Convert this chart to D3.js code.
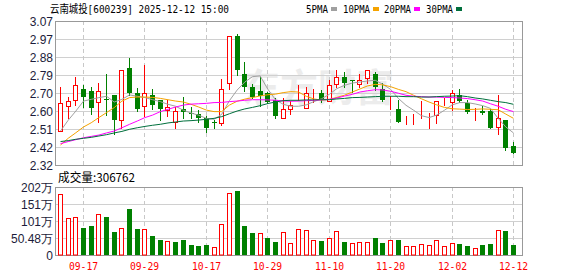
<!DOCTYPE html>
<html>
<head>
<meta charset="utf-8">
<script src="https://cdn.jsdelivr.net/npm/d3@7"></script>
<style>
  body { margin: 0; background: #fff; }
  text { font-family: "Liberation Sans", Arial, sans-serif; }
</style>
</head>
<body>
<div id="chart"></div>
<script>
// trading days shown, 09-12 .. 12-12
var dates = ["09-12","09-15","09-16","09-17","09-18","09-19","09-22","09-23","09-24","09-25",
  "09-26","09-29","09-30","10-09","10-10","10-13","10-14","10-15","10-16","10-17",
  "10-20","10-21","10-22","10-23","10-24","10-27","10-28","10-29","10-30","10-31",
  "11-03","11-04","11-05","11-06","11-07","11-10","11-11","11-12","11-13","11-14",
  "11-17","11-18","11-19","11-20","11-21","11-24","11-25","11-26","11-27","11-28",
  "12-01","12-02","12-03","12-04","12-05","12-08","12-09","12-10","12-11","12-12"];

var openP = [2.495,2.626,2.657,2.714,2.705,2.646,2.666,2.685,2.556,2.825,
  2.695,2.626,2.683,2.660,2.605,2.546,2.612,2.591,2.587,2.563,
  2.546,2.537,2.749,2.992,2.794,2.726,2.705,2.695,2.657,2.567,
  2.612,2.672,2.615,2.702,2.693,2.652,2.740,2.778,2.765,2.740,
  2.771,2.794,2.714,2.660,2.612,2.551,2.570,2.572,2.573,2.579,
  2.653,2.648,2.683,2.643,2.606,2.601,2.601,2.516,2.554,2.419];
var highP = [2.726,2.674,2.778,2.737,2.726,2.747,2.796,2.685,2.813,2.879,
  2.719,2.839,2.716,2.660,2.657,2.622,2.674,2.622,2.605,2.575,
  2.556,2.766,2.992,3.001,2.855,2.740,2.778,2.700,2.671,2.671,
  2.653,2.735,2.725,2.714,2.712,2.761,2.815,2.803,2.765,2.792,
  2.813,2.804,2.749,2.679,2.660,2.575,2.587,2.653,2.591,2.652,
  2.667,2.712,2.714,2.660,2.619,2.627,2.610,2.685,2.554,2.440];
var lowP = [2.495,2.567,2.633,2.624,2.587,2.546,2.580,2.483,2.511,2.685,
  2.601,2.575,2.612,2.556,2.575,2.514,2.567,2.567,2.546,2.492,
  2.514,2.527,2.718,2.789,2.705,2.671,2.626,2.641,2.567,2.567,
  2.587,2.657,2.615,2.648,2.648,2.652,2.725,2.725,2.700,2.725,
  2.749,2.712,2.655,2.610,2.546,2.535,2.535,2.567,2.514,2.537,
  2.634,2.605,2.650,2.589,2.556,2.587,2.514,2.483,2.400,2.381];
var closeP = [2.641,2.653,2.735,2.676,2.615,2.705,2.659,2.556,2.813,2.697,
  2.613,2.695,2.634,2.613,2.620,2.600,2.594,2.589,2.567,2.514,
  2.539,2.714,2.992,2.815,2.728,2.674,2.679,2.646,2.575,2.610,
  2.631,2.672,2.693,2.702,2.665,2.735,2.778,2.747,2.763,2.764,
  2.813,2.728,2.657,2.660,2.546,2.551,2.570,2.572,2.573,2.652,
  2.653,2.693,2.653,2.594,2.606,2.591,2.514,2.565,2.410,2.381];

// volume, in 万
var volume = [180.2,109,112,80.2,86,120.8,112.8,68.3,79.2,136.6,
  77.2,76.2,56.4,45.5,40.6,38.6,45.5,29.7,26.7,29.7,
  22.8,91,184,190,86,64.3,64.3,50.5,38.6,67.3,
  34.6,76.2,74.2,44.5,41.6,49.4,71.3,38.6,34.6,37.6,
  37.6,50.5,35.6,44.5,44.5,25.7,25.7,31.7,28.7,44.5,
  25.7,34.6,32.7,26.7,19.8,29.7,32.7,74.2,71.3,30.6762];

var ma5 = [2.497,2.553,2.601,2.653,2.662,2.671,2.678,2.648,2.662,2.685,
  2.678,2.671,2.660,2.650,2.636,2.626,2.605,2.591,2.579,2.563,
  2.558,2.584,2.655,2.710,2.752,2.780,2.784,2.715,2.660,2.636,
  2.626,2.626,2.633,2.650,2.665,2.688,2.718,2.735,2.747,2.752,
  2.758,2.761,2.740,2.714,2.667,2.631,2.605,2.577,2.567,2.580,
  2.605,2.633,2.645,2.645,2.638,2.629,2.615,2.563,2.518,2.487];
var ma10 = [2.424,2.459,2.488,2.518,2.540,2.567,2.593,2.619,2.653,2.671,
  2.674,2.674,2.672,2.667,2.660,2.653,2.648,2.636,2.622,2.606,
  2.598,2.598,2.632,2.652,2.663,2.671,2.680,2.686,2.689,2.697,
  2.702,2.700,2.678,2.664,2.658,2.662,2.672,2.684,2.700,2.716,
  2.732,2.740,2.737,2.728,2.714,2.702,2.683,2.665,2.648,2.633,
  2.620,2.613,2.611,2.609,2.610,2.612,2.610,2.608,2.585,2.563];
var ma20 = [2.431,2.442,2.452,2.462,2.469,2.476,2.487,2.497,2.514,2.532,
  2.549,2.567,2.580,2.598,2.610,2.622,2.632,2.637,2.639,2.641,
  2.645,2.646,2.650,2.653,2.657,2.660,2.660,2.659,2.657,2.654,
  2.652,2.653,2.655,2.657,2.659,2.662,2.669,2.679,2.688,2.700,
  2.707,2.712,2.711,2.704,2.694,2.683,2.678,2.676,2.674,2.674,
  2.672,2.671,2.669,2.666,2.660,2.653,2.639,2.626,2.610,2.598];
var ma30 = [2.442,2.447,2.454,2.459,2.464,2.471,2.478,2.487,2.495,2.506,
  2.514,2.521,2.527,2.532,2.539,2.544,2.549,2.551,2.554,2.558,
  2.563,2.572,2.587,2.601,2.612,2.620,2.629,2.640,2.648,2.655,
  2.657,2.657,2.659,2.659,2.660,2.660,2.664,2.667,2.671,2.672,
  2.674,2.676,2.678,2.678,2.678,2.676,2.676,2.674,2.674,2.676,
  2.678,2.679,2.681,2.676,2.669,2.664,2.657,2.650,2.645,2.636];

var priceLabels = ["2.32","2.42","2.51","2.60","2.70","2.79","2.88","2.97","3.07"];
var volLabels = ["0","50.48万","101万","151万","202万"];
var tickDates = ["09-17","09-29","10-17","10-29","11-10","11-20","12-02","12-12"];
var maNames = ["5PMA","10PMA","20PMA","30PMA"];

var RED = "#ff0000", GREEN = "#008000";
var maColors = ["#a0a0a0", "#f5a300", "#ff00ff", "#006f3c"];

var W = 578, H = 276;
var left = 55, right = 522;
var pTop = 21, pBot = 165, vTop = 187, vBot = 255;
var pMin = 2.32, pMax = 3.07, vMax = 201.92;

var svg = d3.select("#chart").append("svg")
  .attr("width", W).attr("height", H);

var n = dates.length;
var x = d3.scaleLinear().domain([0, n - 1]).range([60.5, 513.5]);
var cx = function (i) { return Math.floor(x(i)) + 0.5; };
var yP = d3.scaleLinear().domain([pMin, pMax]).range([pBot, pTop]);
var yV = d3.scaleLinear().domain([0, vMax]).range([vBot, vTop]);

// watermark
svg.append("text")
  .attr("x", 242).attr("y", 101)
  .style("font-family", "'Noto Sans CJK SC'")
  .style("font-weight", "bold")
  .style("font-size", "38px")
  .attr("fill", "#ececec")
  .text("东方财富");

// grids
var priceVals = d3.range(priceLabels.length).map(function (i) {
  return pMin + i * (pMax - pMin) / (priceLabels.length - 1);
});
var volVals = d3.range(volLabels.length).map(function (i) {
  return i * vMax / (volLabels.length - 1);
});

svg.selectAll(".pgrid").data(priceVals.slice(1, -1)).enter()
  .append("line")
  .attr("x1", left).attr("x2", right)
  .attr("y1", function (d) { return Math.round(yP(d)) + 0.5; })
  .attr("y2", function (d) { return Math.round(yP(d)) + 0.5; })
  .attr("stroke", "#d0d0d0");
svg.selectAll(".vgrid").data(volVals.slice(1, -1)).enter()
  .append("line")
  .attr("x1", left).attr("x2", right)
  .attr("y1", function (d) { return Math.round(yV(d)) + 0.5; })
  .attr("y2", function (d) { return Math.round(yV(d)) + 0.5; })
  .attr("stroke", "#d0d0d0");

var tickIdx = tickDates.map(function (d) { return dates.indexOf(d); });
[[pTop, pBot], [vTop, vBot]].forEach(function (r) {
  svg.selectAll(null).data(tickIdx).enter()
    .append("line")
    .attr("x1", function (i) { return cx(i); })
    .attr("x2", function (i) { return cx(i); })
    .attr("y1", r[0]).attr("y2", r[1])
    .attr("stroke", "#c8c8c8")
    .attr("stroke-dasharray", "4,3");
});

// panel frames
[[pTop, pBot], [vTop, vBot]].forEach(function (r) {
  svg.append("rect")
    .attr("x", left + 0.5).attr("y", r[0] + 0.5)
    .attr("width", right - left).attr("height", r[1] - r[0])
    .attr("fill", "none").attr("stroke", "#999");
});

// y labels
svg.selectAll(".plab").data(priceVals).enter()
  .append("text")
  .attr("x", 53).attr("y", function (d) { return yP(d) + 4.5; })
  .attr("text-anchor", "end")
  .style("font-size", "12px").attr("fill", "#1c1c3a")
  .text(function (d, i) { return priceLabels[i]; });
svg.selectAll(".vlab").data(volVals).enter()
  .append("text")
  .attr("x", 53).attr("y", function (d) { return yV(d) + 4.5; })
  .attr("text-anchor", "end")
  .style("font-size", "12px").attr("fill", "#1c1c3a")
  .text(function (d, i) { return volLabels[i]; });

// x labels
svg.selectAll(".xlab").data(tickIdx).enter()
  .append("text")
  .attr("x", function (i) { return cx(i); }).attr("y", 270)
  .attr("text-anchor", "middle")
  .style("font-family", "'DejaVu Sans Mono', monospace")
  .style("font-size", "9.7px").attr("fill", RED)
  .text(function (i) { return dates[i]; });

// up / down
var isUp = function (i) {
  if (closeP[i] > openP[i]) return true;
  if (closeP[i] < openP[i]) return false;
  return i === 0 || closeP[i] >= closeP[i - 1];
};
var volUp = function (i) { return i === 0 || closeP[i] >= closeP[i - 1]; };

// volume bars
var idx = d3.range(n);
svg.selectAll(".vol").data(idx).enter()
  .append("rect")
  .attr("x", function (i) { return volUp(i) ? cx(i) - 2 : cx(i) - 2.5; })
  .attr("y", function (i) { return Math.round(yV(volume[i])) + (volUp(i) ? 0.5 : 0); })
  .attr("width", function (i) { return volUp(i) ? 4 : 5; })
  .attr("height", function (i) { return vBot - Math.round(yV(volume[i])) - (volUp(i) ? 0.5 : 0); })
  .attr("fill", function (i) { return volUp(i) ? "#fff" : GREEN; })
  .attr("stroke", function (i) { return volUp(i) ? RED : "none"; });

// candles
var candle = svg.selectAll(".candle").data(idx).enter().append("g");
candle.append("line")
  .attr("x1", function (i) { return cx(i); })
  .attr("x2", function (i) { return cx(i); })
  .attr("y1", function (i) { return Math.round(yP(highP[i])); })
  .attr("y2", function (i) { return Math.round(yP(lowP[i])) + 1; })
  .attr("stroke", function (i) { return isUp(i) ? RED : GREEN; });
candle.append("rect")
  .attr("x", function (i) { return isUp(i) ? cx(i) - 2 : cx(i) - 2.5; })
  .attr("y", function (i) {
    var t = Math.round(yP(Math.max(openP[i], closeP[i])));
    return isUp(i) ? t + 0.5 : t;
  })
  .attr("width", function (i) { return isUp(i) ? 4 : 5; })
  .attr("height", function (i) {
    var t = Math.round(yP(Math.max(openP[i], closeP[i])));
    var b = Math.round(yP(Math.min(openP[i], closeP[i])));
    return isUp(i) ? Math.max(b - t, 0) : Math.max(b - t, 1);
  })
  .attr("fill", function (i) { return isUp(i) ? "#fff" : GREEN; })
  .attr("stroke", function (i) { return isUp(i) ? RED : "none"; });

// moving averages
var line = d3.line()
  .x(function (d, i) { return x(i); })
  .y(function (d) { return yP(d); });
[ma5, ma10, ma20, ma30].forEach(function (s, k) {
  svg.append("path")
    .attr("d", line(s))
    .attr("fill", "none")
    .attr("stroke", maColors[k])
    .attr("stroke-width", 1);
});

// title + legend
svg.append("text")
  .attr("x", 50).attr("y", 13)
  .style("font-family", "'DejaVu Sans Mono', 'Noto Sans CJK SC', monospace")
  .style("font-size", "11px").attr("fill", "#000")
  .attr("textLength", 179).attr("lengthAdjust", "spacingAndGlyphs")
  .text("云南城投[600239] 2025-12-12 15:00");

var legX = [306, 343, 384, 426], legW = [22, 27, 27, 27];
maNames.forEach(function (name, k) {
  svg.append("text")
    .attr("x", legX[k]).attr("y", 12.5)
    .style("font-family", "'DejaVu Sans Mono', monospace")
    .style("font-size", "10px").attr("fill", "#000")
    .attr("textLength", legW[k]).attr("lengthAdjust", "spacingAndGlyphs")
    .text(name);
  svg.append("rect")
    .attr("x", legX[k] + legW[k] + 3).attr("y", 7)
    .attr("width", 6).attr("height", 4)
    .attr("fill", maColors[k]);
});

svg.append("text")
  .attr("x", 58).attr("y", 182)
  .style("font-family", "'Noto Sans CJK SC', 'DejaVu Sans Mono', monospace")
  .style("font-size", "12px").attr("fill", "#000")
  .attr("textLength", 77).attr("lengthAdjust", "spacingAndGlyphs")
  .text("成交量:" + Math.round(volume[n - 1] * 10000));
</script>
</body>
</html>
